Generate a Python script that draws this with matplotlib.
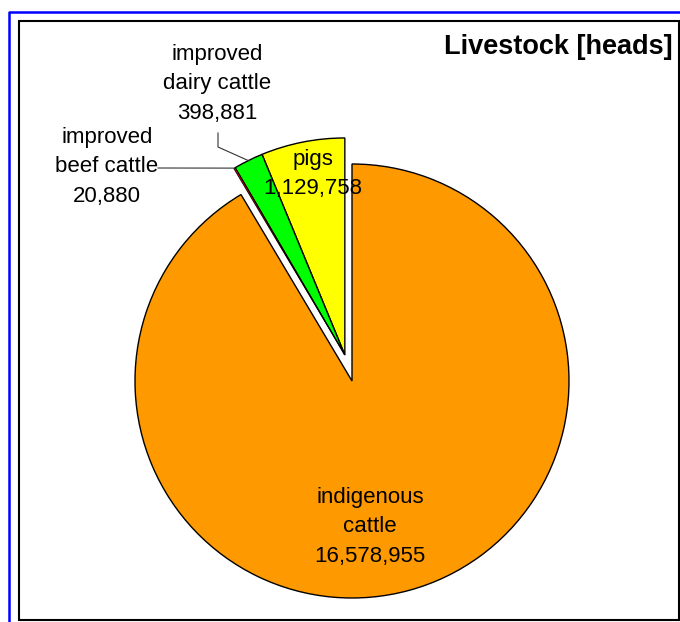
import numpy as np
import matplotlib
matplotlib.use("Agg")
import matplotlib.pyplot as plt
from matplotlib.patches import Rectangle
from matplotlib.lines import Line2D

plt.rcParams['font.family'] = ['Liberation Sans', 'DejaVu Sans']

# Livestock numbers (heads)
categories = ["pigs", "improved\ndairy cattle", "improved\nbeef cattle", "indigenous\ncattle"]
heads = [1129758, 398881, 20880, 16578955]
colors = ["#FFFF00", "#00FF00", "#FF0000", "#FF9900"]

W, H = 680, 622
fig = plt.figure(figsize=(W / 100, H / 100), dpi=100)
ax = fig.add_axes([0, 0, 1, 1])


def py(y):
    """Convert a top-down pixel row into the axes' upward y coordinate."""
    return H - y


cx, cy, R = 352, py(381), 217
wedges, _ = ax.pie(heads, colors=colors, startangle=90, counterclock=True,
                   center=(cx, cy), radius=R,
                   wedgeprops=dict(edgecolor="black", linewidth=1.0))
ax.set_xlim(0, W)
ax.set_ylim(0, H)
ax.set_aspect("auto")
ax.axis("off")

# Pull the three small slices out together along their common mid-angle
fracs = np.array(heads) / np.sum(heads)
group_mid = np.deg2rad(90 + 360 * fracs[:3].sum() / 2)
pull = 27
ox, oy = cx + pull * np.cos(group_mid), cy + pull * np.sin(group_mid)
for w in wedges[:3]:
    w.set_center((ox, oy))
# the thinnest slice keeps a lighter outline so its fill stays visible
wedges[2].set_linewidth(0.6)


def outer_mid(i):
    a0 = 90 + 360 * fracs[:i].sum()
    a = np.deg2rad(a0 + 360 * fracs[i] / 2)
    return ox + R * np.cos(a), oy + R * np.sin(a)


fs = 16
txt = dict(ha="center", va="center", fontsize=fs, linespacing=1.56, color="black", zorder=5)

ax.text(313, py(174), f"{categories[0]}\n{heads[0]:,}", **txt)
ax.text(217, py(84), f"{categories[1]}\n{heads[1]:,}", **txt)
ax.text(107, py(167), f"{categories[2]}\n{heads[2]:,}", **txt)
ax.text(370, py(527), f"{categories[3]}\n{heads[3]:,}", **txt)

# Leader lines to the thin slices
bx, by = outer_mid(2)
ax.add_line(Line2D([158, bx], [py(168), by], color="#333333", lw=0.8, zorder=4))
dx_, dy_ = outer_mid(1)
ax.add_line(Line2D([218, 218, dx_], [py(133), py(147), dy_], color="#333333", lw=0.8, zorder=4))

ax.text(673, py(47), "Livestock [heads]", ha="right", va="center",
        fontsize=19.5, fontweight="bold", zorder=5)

# Chart border and outer frame
ax.add_patch(Rectangle((19, py(620)), 660, 599, fill=False, edgecolor="black",
                       linewidth=1.5, zorder=6))
ax.add_line(Line2D([9, 9, W], [0, py(12), py(12)], color="#0000FF", lw=1.8, zorder=6))

fig.savefig("out.png", dpi=100)
